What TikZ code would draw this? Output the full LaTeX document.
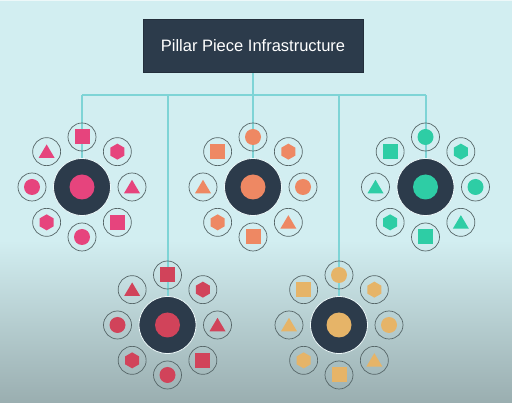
\documentclass[tikz,border=0pt]{standalone}
\usepackage{fontspec}
\setmainfont{Liberation Sans}
\usetikzlibrary{calc}
\pgfdeclarelayer{back}
\pgfdeclarelayer{wires}
\pgfsetlayers{back,wires,main}
\definecolor{bgtop}{HTML}{D2EEF1}
\definecolor{bgbot}{HTML}{9AAEB0}
\definecolor{navy}{HTML}{2C3B4B}
\definecolor{wire}{HTML}{7ED4D6}
\definecolor{ringc}{HTML}{566668}
\definecolor{cpink}{HTML}{E6447D}
\definecolor{corange}{HTML}{EE8863}
\definecolor{cgreen}{HTML}{2ECDA5}
\definecolor{cred}{HTML}{D1435A}
\definecolor{cgold}{HTML}{E6B468}
\tikzset{
  titlebox/.style={fill=navy, draw=navy!80!black, line width=0.6pt, minimum width=220pt, minimum height=53pt, inner sep=0pt, text=white, font=\fontsize{16.5}{20}\selectfont},
  wireline/.style={draw=wire, line width=2pt},
  bigdisc/.style={circle, fill=navy, draw=white!60!bgtop, line width=0.8pt, minimum size=57pt, inner sep=0pt},
  hubdot/.style={circle, minimum size=25pt, inner sep=0pt},
  ringnode/.style={circle, draw=ringc, line width=0.7pt, minimum size=28pt, inner sep=0pt},
}
\newcommand\glsq[2]{\fill[#1,shift={(#2)}] (-7.5,-7.5) rectangle (7.5,7.5);}
\newcommand\glhex[2]{\fill[#1,shift={(#2)}] (90:8) -- (150:8) -- (210:8) -- (270:8) -- (330:8) -- (30:8) -- cycle;}
\newcommand\gltri[2]{\fill[#1,shift={(#2)}] (0,-7.2) -- (8,6.3) -- (-8,6.3) -- cycle;}
\newcommand\gldot[2]{\fill[#1] (#2) circle[radius=8];}
\newcommand\mycluster[4]{%
  \node[bigdisc] (#1) at (#2) {};
  \node[hubdot, fill=#3] (#1c) at (#1) {};
  \foreach \ang/\shp [count=\k] in #4 {
    \node[ringnode] (#1s\k) at ($(#1)+(\ang:50)$) {};
    \csname gl\shp\endcsname{#3}{#1s\k}
  }
}
\def\patA{-90/sq,-45/hex,0/tri,45/sq,90/dot,135/hex,180/dot,225/tri}
\def\patB{-90/dot,-45/hex,0/dot,45/tri,90/sq,135/hex,180/tri,225/sq}
\begin{document}
\begin{tikzpicture}[x=1pt,y=-1pt]
\useasboundingbox (0,0) rectangle (512,403);
\begin{pgfonlayer}{back}
\fill[bgtop] (0,0) rectangle (512,403);
\shade[top color=bgtop, bottom color=bgbot] (0,240) rectangle (512,403);
\fill[white!60!bgtop] (0,0) rectangle (512,1.2);
\end{pgfonlayer}

\node[titlebox] (T) at (253,45.5) {Pillar Piece Infrastructure};

\mycluster{P1}{82,187}{cpink}{\patA}
\mycluster{P2}{253,187}{corange}{\patB}
\mycluster{P3}{425.5,187}{cgreen}{\patB}
\mycluster{P4}{167.5,325}{cred}{\patA}
\mycluster{P5}{339,325}{cgold}{\patB}

\coordinate (bus) at (253,95.5);
\begin{pgfonlayer}{wires}
\draw[wireline] (T.south) -- (bus);
\draw[wireline] (P1.north |- bus) -- (P3.north |- bus);
\foreach \p in {P1,P2,P3,P4,P5} {
  \draw[wireline] (\p.north |- bus) -- (\p.north);
}
\end{pgfonlayer}
\end{tikzpicture}
\end{document}
